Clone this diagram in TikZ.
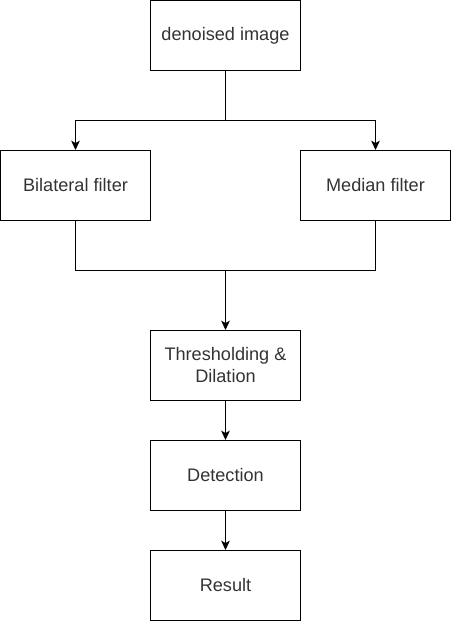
\documentclass[tikz,border=0pt]{standalone}
\usepackage{fontspec}
\setmainfont{Liberation Sans}
\usetikzlibrary{arrows.meta}
\definecolor{txt}{HTML}{333333}
\begin{document}
\begin{tikzpicture}[x=0.75pt,y=-0.75pt,
  box/.style={draw=black,line width=0.75pt,minimum width=112.5pt,minimum height=52.5pt,inner sep=0pt,align=center,text=txt,font=\fontsize{13.6pt}{16.5pt}\selectfont},
  conn/.style={line width=0.75pt,draw=black},
  arr/.style={conn,-{Stealth[length=7pt,width=6.5pt,inset=1.8pt]}}]
\useasboundingbox (0,0) rectangle (452,621);
\node[box] (den) at (225.5,35.5) {denoised image};
\node[box] (bil) at (75.5,185.5) {Bilateral filter};
\node[box] (med) at (375.5,185.5) {Median filter};
\node[box] (thr) at (225.5,365.5) {Thresholding \&\\Dilation};
\node[box] (det) at (225.5,475.5) {Detection};
\node[box] (res) at (225.5,585.5) {Result};
\coordinate (split) at (225.5,120.5);
\coordinate (join) at (225.5,270.5);
\draw[conn] (den.south) -- (split);
\draw[arr] (split) -| (bil.north);
\draw[arr] (split) -| (med.north);
\draw[conn] (bil.south) |- (join);
\draw[conn] (med.south) |- (join);
\draw[arr] (join) -- (thr.north);
\draw[arr] (thr) -- (det);
\draw[arr] (det) -- (res);
\end{tikzpicture}
\end{document}
